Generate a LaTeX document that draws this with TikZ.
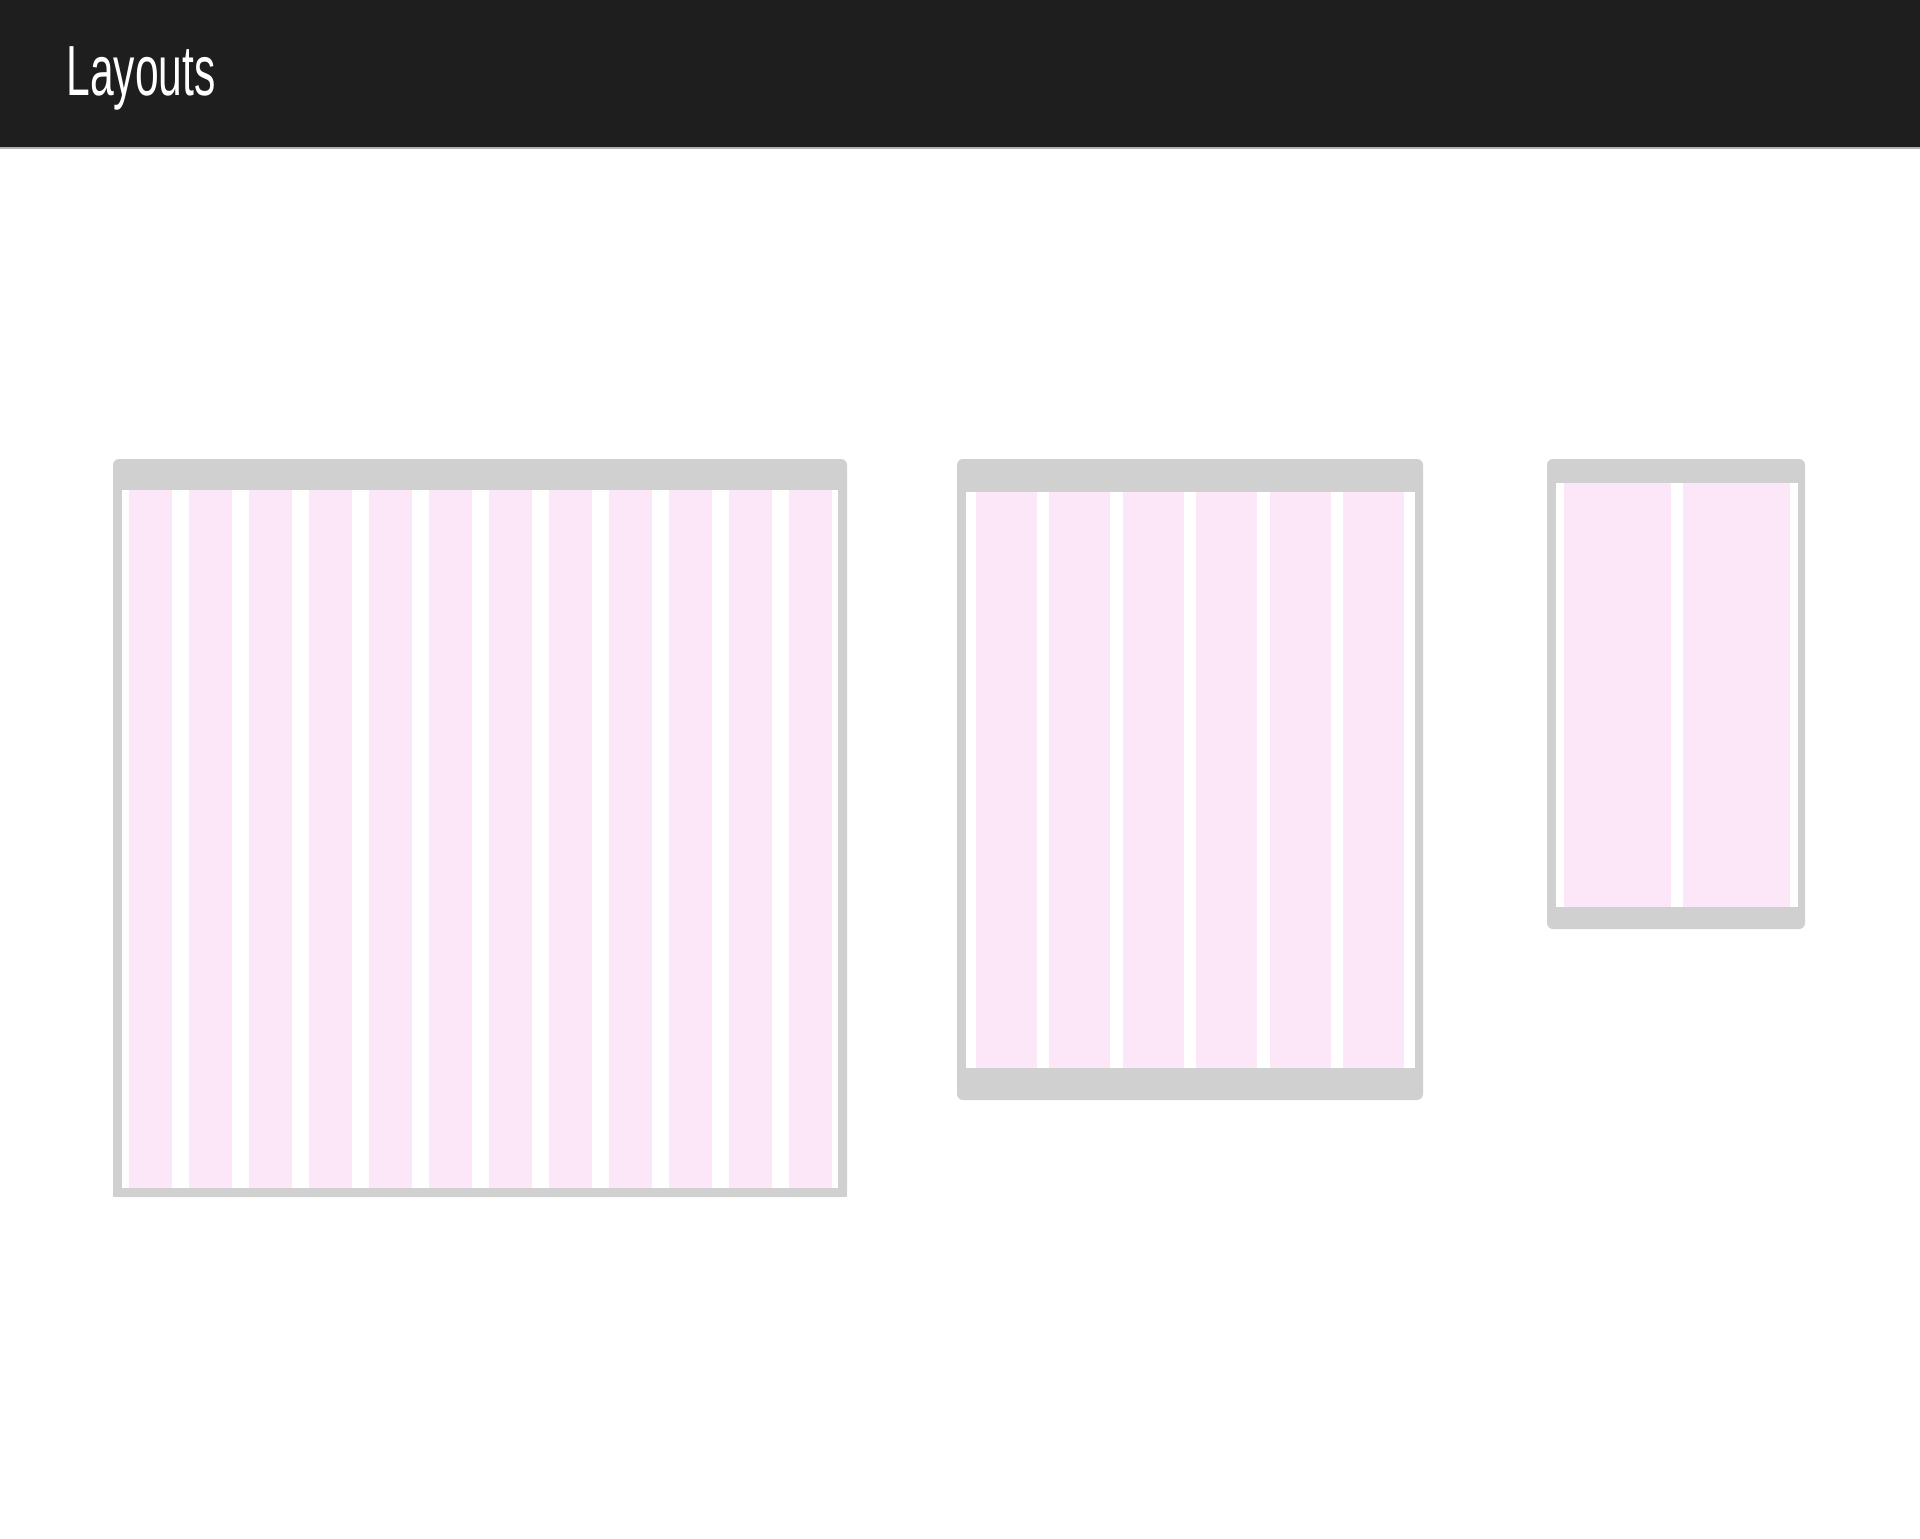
\documentclass[tikz,border=0pt]{standalone}
\usepackage{fontspec}
\setmainfont{Liberation Sans}
\usepackage{tikz}
\definecolor{headbg}{HTML}{1E1E1E}
\definecolor{framegray}{HTML}{D0D0D0}
\definecolor{colpink}{HTML}{FCE7F9}

\begin{document}
\begin{tikzpicture}[x=0.5pt, y=-0.5pt,
  frame/.style={fill=framegray, rounded corners=3pt},
  screen/.style={fill=white},
  col/.style={fill=colpink}]
  \useasboundingbox[fill=white] (0,0) rectangle (1920,1538);
  % header
  \fill[headbg] (0,0) rectangle (1920,147);
  \fill[gray!60] (0,147) rectangle (1920,149);
  \node (title) [anchor=base west, inner sep=0pt, text=white]
    at (66,95) {\fontsize{35.5}{40}\selectfont\scalebox{0.6}[1]{Layouts}};
  % desktop, 12 columns
  \fill[frame] (113,459) rectangle (847,1197);
  \fill[framegray] (113,1170) rectangle (847,1197);
  \fill[screen] (122,490) rectangle (838,1188);
  \foreach \i in {0,...,11}
    \fill[col] ({129+60*\i},490) rectangle ++(43,698);
  % tablet, 6 columns
  \fill[frame] (957,459) rectangle (1423,1100);
  \fill[screen] (966,492) rectangle (1415,1068);
  \foreach \i in {0,...,5}
    \fill[col] ({976+73.4*\i},492) rectangle ++(61,576);
  % phone, 2 columns
  \fill[frame] (1547,459) rectangle (1805,929);
  \fill[screen] (1556,483) rectangle (1798,907);
  \foreach \i in {0,1}
    \fill[col] ({1564+119*\i},483) rectangle ++(107,424);
\end{tikzpicture}
\end{document}
